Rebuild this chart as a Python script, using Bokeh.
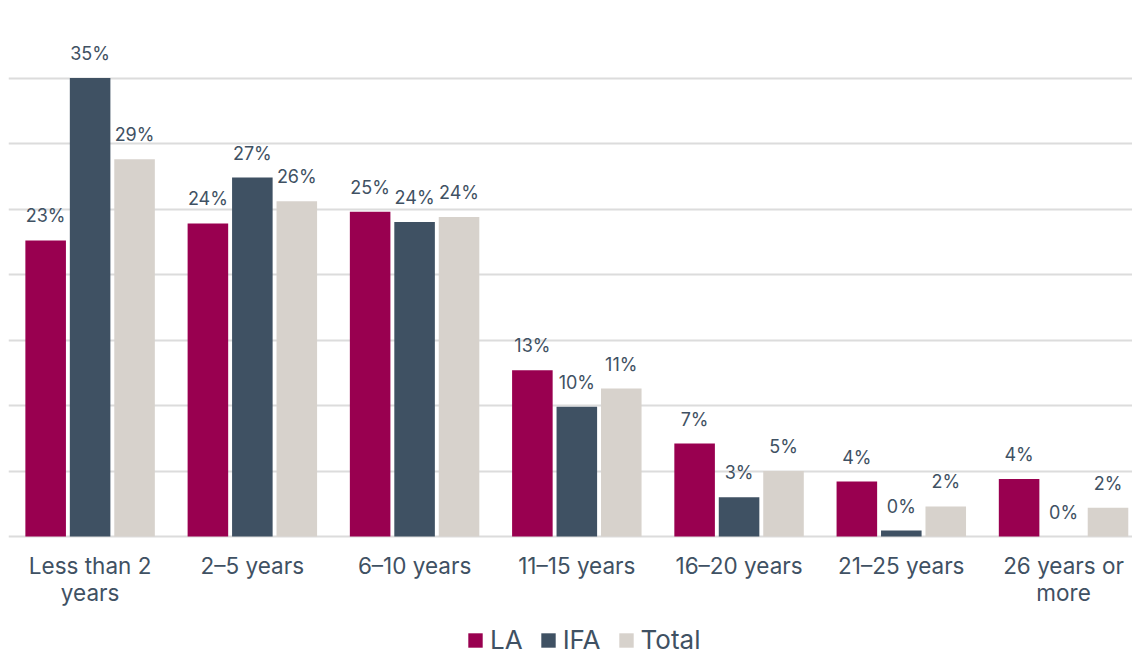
from bokeh.plotting import figure
from bokeh.models import ColumnDataSource, Range1d, Legend, LegendItem, LabelSet
from bokeh.core.properties import value
from bokeh.embed import file_html
from bokeh.resources import INLINE

categories = ["Less than 2 years", "2–5 years", "6–10 years", "11–15 years",
              "16–20 years", "21–25 years", "26 years or more"]
label_line1 = ["Less than 2", "2–5 years", "6–10 years", "11–15 years",
               "16–20 years", "21–25 years", "26 years or"]
label_line2 = ["years", "", "", "", "", "", "more"]
la = [22.6, 23.9, 24.8, 12.7, 7.1, 4.2, 4.4]
ifa = [35.0, 27.4, 24.0, 9.9, 3.0, 0.46, 0.0]
total = [28.8, 25.6, 24.4, 11.3, 5.0, 2.3, 2.2]
series_names = ["LA", "IFA", "Total"]
colors = ["#990050", "#3f5163", "#d7d2cc"]
FONT = "Inter"
TEXT = "#3f5163"

# category slot centres (one unit per category)
xc = [i + 0.5 for i in range(len(categories))]
offsets = [-0.274, 0.0, 0.274]

data = dict(cat=categories, xc=xc, zero=[0] * len(categories),
            line1=label_line1, line2=label_line2)
for name, vals, off in zip(series_names, (la, ifa, total), offsets):
    data[name] = vals
    data[name + "_x"] = [x + off for x in xc]
    data[name + "_lbl"] = [f"{round(v)}%" for v in vals]
src = ColumnDataSource(data)

# the last category slot runs slightly past the right edge, as in the reference;
# negative y holds the category labels and the legend
p = figure(x_range=Range1d(-0.003, 6.925), y_range=Range1d(-9.08, 40),
           width=1132, height=655, output_backend="svg", toolbar_location=None,
           min_border_left=8, min_border_right=0, min_border_top=12, min_border_bottom=0)
p.xaxis.visible = False
p.yaxis.visible = False

renderers = []
for name, col in zip(series_names, colors):
    r = p.vbar(x=name + "_x", top=name, bottom=0, width=0.25,
               source=src, fill_color=col, line_color=None)
    renderers.append(r)
    p.add_layout(LabelSet(x=name + "_x", y=name, text=name + "_lbl",
                          source=src, text_align="center", text_baseline="bottom",
                          y_offset=14, text_font=value(FONT), text_font_size="18px",
                          text_color=TEXT))

for col, off in (("line1", -29), ("line2", -56)):
    p.add_layout(LabelSet(x="xc", y="zero", text=col, source=src, text_align="center",
                          text_baseline="middle", y_offset=off, text_font=value(FONT),
                          text_font_size="22.5px", text_color=TEXT))

legend = Legend(items=[LegendItem(label=n, renderers=[r]) for n, r in zip(series_names, renderers)],
                orientation="horizontal", location=(458, 0),
                label_text_font=FONT, label_text_font_size="26px", label_text_color=TEXT,
                glyph_width=18, glyph_height=18, spacing=16, label_standoff=6,
                border_line_color=None, background_fill_alpha=0, padding=0, margin=0)
p.add_layout(legend)

p.xgrid.grid_line_color = None
p.ygrid.grid_line_color = "#dcdcdc"
p.ygrid.grid_line_width = 2
p.ygrid.ticker = [0, 5, 10, 15, 20, 25, 30, 35, 40]
p.outline_line_color = None

open("out.html", "w").write(file_html(p, INLINE))
